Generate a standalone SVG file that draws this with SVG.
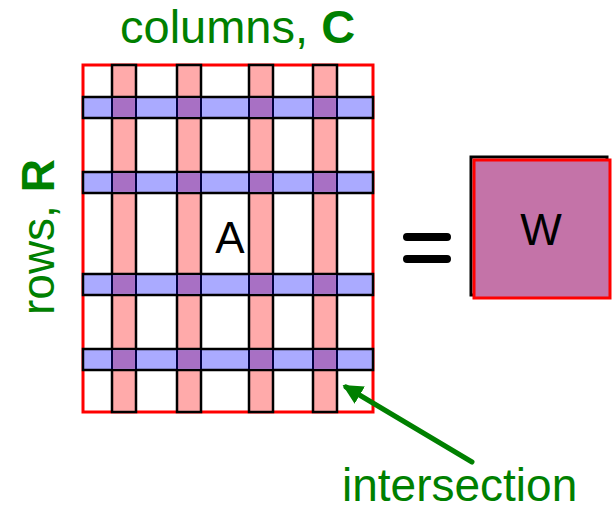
<svg xmlns="http://www.w3.org/2000/svg" width="612" height="512" viewBox="0 0 612 512">
<defs>
<style>
.lbl{font-family:"Liberation Sans",Arial,sans-serif;fill:#008000}
.txt{font-family:"Liberation Sans",Arial,sans-serif;fill:#000}
.col{fill:#FFAAAA;stroke:#000;stroke-width:2.5}
.row{fill:#AAAAFF;stroke:#000;stroke-width:2.5}
.ix{fill:#A870C4}
.edge{stroke:#000040;stroke-width:2}
</style>
<marker id="ah" viewBox="0 0 10 10" refX="8" refY="5" markerWidth="4" markerHeight="4" orient="auto" markerUnits="strokeWidth">
<path d="M0,0 L10,5 L0,10 Z" fill="#008000"/>
</marker>
</defs>
<rect width="612" height="512" fill="#fff"/>
<g id="label-columns"><text class="lbl" x="120" y="43" font-size="47">columns, <tspan font-weight="bold">C</tspan></text></g>
<g id="label-rows"><text class="lbl" transform="translate(54,315) rotate(-90)" font-size="46">rows, <tspan font-weight="bold">R</tspan></text></g>
<g id="matrix-A">
<rect x="83" y="65" width="290" height="347" fill="#fff" stroke="#FF0000" stroke-width="3"/>
<rect class="col" x="112" y="65" width="24" height="347"/>
<rect class="col" x="177" y="65" width="24" height="347"/>
<rect class="col" x="249" y="65" width="24" height="347"/>
<rect class="col" x="313" y="65" width="24" height="347"/>
<g id="rows">
<rect class="row" x="83" y="97" width="290" height="21"/>
<rect class="row" x="83" y="172" width="290" height="21"/>
<rect class="row" x="83" y="274" width="290" height="21"/>
<rect class="row" x="83" y="349" width="290" height="21"/>
</g>
<g id="intersections">
<rect class="ix" x="113" y="98.2" width="22" height="18.6"/><rect class="ix" x="178" y="98.2" width="22" height="18.6"/><rect class="ix" x="250" y="98.2" width="22" height="18.6"/><rect class="ix" x="314" y="98.2" width="22" height="18.6"/>
<rect class="ix" x="113" y="173.2" width="22" height="18.6"/><rect class="ix" x="178" y="173.2" width="22" height="18.6"/><rect class="ix" x="250" y="173.2" width="22" height="18.6"/><rect class="ix" x="314" y="173.2" width="22" height="18.6"/>
<rect class="ix" x="113" y="275.2" width="22" height="18.6"/><rect class="ix" x="178" y="275.2" width="22" height="18.6"/><rect class="ix" x="250" y="275.2" width="22" height="18.6"/><rect class="ix" x="314" y="275.2" width="22" height="18.6"/>
<rect class="ix" x="113" y="350.2" width="22" height="18.6"/><rect class="ix" x="178" y="350.2" width="22" height="18.6"/><rect class="ix" x="250" y="350.2" width="22" height="18.6"/><rect class="ix" x="314" y="350.2" width="22" height="18.6"/>
</g>
<path class="edge" d="M112,98V117M136,98V117M177,98V117M201,98V117M249,98V117M273,98V117M313,98V117M337,98V117M112,173V192M136,173V192M177,173V192M201,173V192M249,173V192M273,173V192M313,173V192M337,173V192M112,275V294M136,275V294M177,275V294M201,275V294M249,275V294M273,275V294M313,275V294M337,275V294M112,350V369M136,350V369M177,350V369M201,350V369M249,350V369M273,350V369M313,350V369M337,350V369"/>
<text class="txt" x="230" y="253" font-size="44" text-anchor="middle">A</text>
</g>
<g id="equals">
<path d="M407,237H447M407,259H447" stroke="#000" stroke-width="8" stroke-linecap="round"/>
</g>
<g id="matrix-W">
<rect x="471" y="157" width="136" height="138" fill="none" stroke="#000" stroke-width="3"/>
<rect x="474" y="160" width="136" height="138" fill="#C473A8" stroke="#FF0000" stroke-width="3"/>
<text class="txt" x="541" y="245" font-size="44" text-anchor="middle">W</text>
</g>
<g id="connectors">
<line x1="472" y1="462" x2="346" y2="387" stroke="#008000" stroke-width="5" stroke-linecap="round" marker-end="url(#ah)"/>
</g>
<g id="label-intersection"><text class="lbl" x="342" y="501" font-size="46">intersection</text></g>
</svg>
